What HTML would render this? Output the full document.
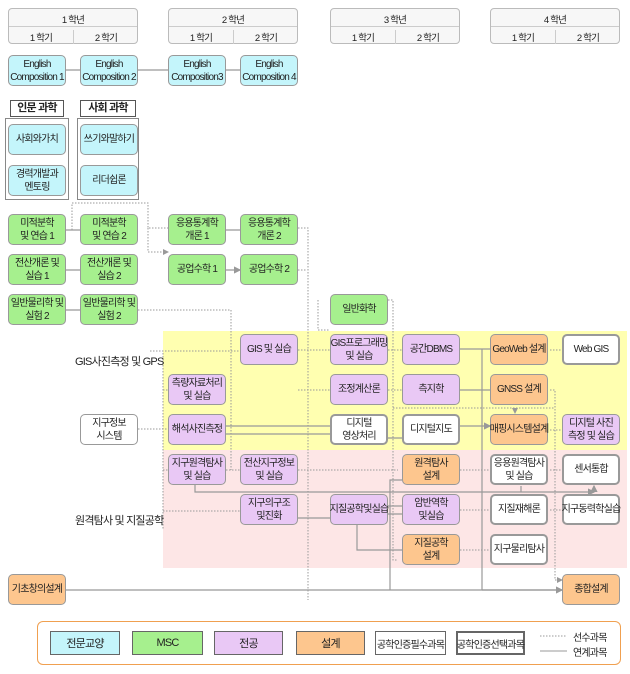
<!DOCTYPE html>
<html><head><meta charset="utf-8"><style>
body{margin:0;width:630px;height:674px;background:#fff;position:relative;overflow:hidden;font-family:"Liberation Sans","Noto Sans CJK KR",sans-serif;font-size:11px;color:#222;letter-spacing:-0.8px}
.b{position:absolute;box-sizing:border-box;border:1px solid #999;border-radius:5px;display:flex;align-items:center;justify-content:center;text-align:center;line-height:13px;width:58px;height:31px;font-size:10px;white-space:nowrap;overflow:visible}
.c{background:#c4f5fb}.g{background:#a6f08e}.p{background:#e9c8f5}.o{background:#fdc68e}.w{background:#fff;border:2px solid #999}.wt{background:#fff}
.hd{position:absolute;box-sizing:border-box;border:1px solid #bbb;border-radius:4px;background:#f7f7f7;width:130px;height:36px;font-size:9.5px}
.hd div{position:absolute;text-align:center}
.lb{position:absolute;font-size:11px;white-space:nowrap}
.band{position:absolute}
.lg{position:absolute;box-sizing:border-box;height:24px;top:631px;display:flex;align-items:center;justify-content:center;font-size:11px;border:1px solid #666;white-space:nowrap}
</style></head><body>
<div class="band" style="left:163px;top:331px;width:464px;height:119px;background:#ffffb0"></div>
<div class="band" style="left:163px;top:450px;width:464px;height:118px;background:#fde6e6"></div>

<div class="hd" style="left:8px;top:8px"><div style="left:0;right:0;top:3px">1 학년</div><div style="left:0;right:0;top:17px;border-top:1px solid #ccc;height:0"></div><div style="left:0;width:64px;top:21px;border-right:1px solid #ccc">1 학기</div><div style="left:65px;width:64px;top:21px">2 학기</div></div>
<div class="hd" style="left:168px;top:8px"><div style="left:0;right:0;top:3px">2 학년</div><div style="left:0;right:0;top:17px;border-top:1px solid #ccc;height:0"></div><div style="left:0;width:64px;top:21px;border-right:1px solid #ccc">1 학기</div><div style="left:65px;width:64px;top:21px">2 학기</div></div>
<div class="hd" style="left:330px;top:8px"><div style="left:0;right:0;top:3px">3 학년</div><div style="left:0;right:0;top:17px;border-top:1px solid #ccc;height:0"></div><div style="left:0;width:64px;top:21px;border-right:1px solid #ccc">1 학기</div><div style="left:65px;width:64px;top:21px">2 학기</div></div>
<div class="hd" style="left:490px;top:8px"><div style="left:0;right:0;top:3px">4 학년</div><div style="left:0;right:0;top:17px;border-top:1px solid #ccc;height:0"></div><div style="left:0;width:64px;top:21px;border-right:1px solid #ccc">1 학기</div><div style="left:65px;width:64px;top:21px">2 학기</div></div>

<svg style="position:absolute;left:0;top:0" width="630" height="674">
<defs><marker id="a" markerWidth="6" markerHeight="6" refX="5" refY="3" orient="auto"><path d="M0,0L6,3L0,6z" fill="#999"/></marker></defs>
<g stroke="#999" stroke-width="1.2" fill="none">
<path d="M66 70H80M138 70H168M226 70H240M66 230H80M66 270H80M66 310H80M226 230H240M226 270H240" marker-end="url(#a)"/>
<path d="M226 426H330M226 434H330M388 438H402M460 426H490" marker-end="url(#a)"/>
<path d="M482 349V590M8 590H562" />
<path d="M460 390H490M460 349H490M482 590H562" marker-end="url(#a)"/>
<path d="M390 590V480H402M298 518H330M388 506H402M388 514H402M357 525V550H402M195 485V492H594" marker-end="url(#a)"/>
<path d="M521 492V486M594 492V486" marker-end="url(#a)"/>
</g>
<g stroke="#999" stroke-width="1" stroke-dasharray="1.5,1.5" fill="none">
<path d="M72 230V203H148V228H168M148 228V252H168" marker-end="url(#a)"/>
<path d="M298 228H308V600M298 270H306M138 310H231V470M163 353V530" />
<path d="M150 351H240M138 429H168M163 390H168M163 470H168M163 511H240M298 350H330M388 350H402M298 390H330M388 390H402M550 350H562M550 430H562M226 470H240M298 470H398M460 470H490M460 510H490M460 550H490M550 470H562M550 510H562M555 580H562" marker-end="url(#a)"/>
<path d="M550 390H555V580M393 408H555M515 408V413" marker-end="url(#a)"/>
<path d="M388 300H393V560H398M318 300V330H330" />
</g>
</svg>

<div class="b c" style="left:8px;top:55px">English<br>Composition 1</div>
<div class="b c" style="left:80px;top:55px">English<br>Composition 2</div>
<div class="b c" style="left:168px;top:55px">English<br>Composition3</div>
<div class="b c" style="left:240px;top:55px">English<br>Composition 4</div>

<div class="b" style="left:10px;top:100px;width:54px;height:17px;border-radius:0;border:1px solid #555;font-weight:bold;font-size:11px">인문 과학</div>
<div class="b" style="left:80px;top:100px;width:56px;height:17px;border-radius:0;border:1px solid #555;font-weight:bold;font-size:11px">사회 과학</div>
<div class="b" style="left:5px;top:118px;width:64px;height:82px;border-radius:0;border:1px solid #888"></div>
<div class="b" style="left:77px;top:118px;width:62px;height:82px;border-radius:0;border:1px solid #888"></div>
<div class="b c" style="left:8px;top:124px">사회와가치</div>
<div class="b c" style="left:8px;top:165px">경력개발과<br>멘토링</div>
<div class="b c" style="left:80px;top:124px">쓰기와말하기</div>
<div class="b c" style="left:80px;top:165px">리더쉽론</div>

<div class="b g" style="left:8px;top:214px">미적분학<br>및 연습 1</div>
<div class="b g" style="left:80px;top:214px">미적분학<br>및 연습 2</div>
<div class="b g" style="left:8px;top:254px">전산개론 및<br>실습 1</div>
<div class="b g" style="left:80px;top:254px">전산개론 및<br>실습 2</div>
<div class="b g" style="left:8px;top:294px">일반물리학 및<br>실험 2</div>
<div class="b g" style="left:80px;top:294px">일반물리학 및<br>실험 2</div>
<div class="b g" style="left:168px;top:214px">응용통계학<br>개론 1</div>
<div class="b g" style="left:240px;top:214px">응용통계학<br>개론 2</div>
<div class="b g" style="left:168px;top:254px">공업수학 1</div>
<div class="b g" style="left:240px;top:254px">공업수학 2</div>
<div class="b g" style="left:330px;top:294px">일반화학</div>

<div class="lb" style="left:75px;top:353px">GIS사진측정 및 GPS</div>
<div class="lb" style="left:75px;top:512px">원격탐사 및 지질공학</div>

<div class="b p" style="left:240px;top:334px">GIS 및 실습</div>
<div class="b p" style="left:330px;top:334px">GIS프로그래밍<br>및 실습</div>
<div class="b p" style="left:402px;top:334px">공간DBMS</div>
<div class="b o" style="left:490px;top:334px">GeoWeb 설계</div>
<div class="b w" style="left:562px;top:334px">Web GIS</div>

<div class="b p" style="left:168px;top:374px">측량자료처리<br>및 실습</div>
<div class="b p" style="left:330px;top:374px">조정계산론</div>
<div class="b p" style="left:402px;top:374px">측지학</div>
<div class="b o" style="left:490px;top:374px">GNSS 설계</div>

<div class="b wt" style="left:80px;top:414px">지구정보<br>시스템</div>
<div class="b p" style="left:168px;top:414px">해석사진측정</div>
<div class="b w" style="left:330px;top:414px">디지털<br>영상처리</div>
<div class="b w" style="left:402px;top:414px">디지털지도</div>
<div class="b o" style="left:490px;top:414px">매핑시스템설계</div>
<div class="b p" style="left:562px;top:414px">디지털 사진<br>측정 및 실습</div>

<div class="b p" style="left:168px;top:454px">지구원격탐사<br>및 실습</div>
<div class="b p" style="left:240px;top:454px">전산지구정보<br>및 실습</div>
<div class="b o" style="left:402px;top:454px">원격탐사<br>설계</div>
<div class="b w" style="left:490px;top:454px">응용원격탐사<br>및 실습</div>
<div class="b w" style="left:562px;top:454px">센서통합</div>

<div class="b p" style="left:240px;top:494px">지구의구조<br>및진화</div>
<div class="b p" style="left:330px;top:494px">지질공학및실습</div>
<div class="b p" style="left:402px;top:494px">암반역학<br>및실습</div>
<div class="b w" style="left:490px;top:494px">지질재해론</div>
<div class="b w" style="left:562px;top:494px">지구동력학실습</div>

<div class="b o" style="left:402px;top:534px">지질공학<br>설계</div>
<div class="b w" style="left:490px;top:534px">지구물리탐사</div>

<div class="b o" style="left:8px;top:574px">기초창의설계</div>
<div class="b o" style="left:562px;top:574px">종합설계</div>

<div style="position:absolute;left:37px;top:621px;width:584px;height:44px;box-sizing:border-box;border:1px solid #f0a050;border-radius:6px"></div>
<div class="lg c" style="left:50px;width:70px">전문교양</div>
<div class="lg g" style="left:132px;width:71px">MSC</div>
<div class="lg p" style="left:214px;width:69px">전공</div>
<div class="lg o" style="left:296px;width:69px">설계</div>
<div class="lg" style="left:375px;width:71px;background:#fff;font-size:10px">공학인증필수과목</div>
<div class="lg" style="left:456px;width:69px;background:#fff;border:2px solid #666;font-size:10px">공학인증선택과목</div>
<svg style="position:absolute;left:0;top:0" width="630" height="674"><path d="M540 636H567" stroke="#999" stroke-dasharray="1.5,1.5"/><path d="M540 651H567" stroke="#999"/></svg>
<div class="lb" style="left:573px;top:629px;font-size:10px">선수과목</div>
<div class="lb" style="left:573px;top:644px;font-size:10px">연계과목</div>
</body></html>
